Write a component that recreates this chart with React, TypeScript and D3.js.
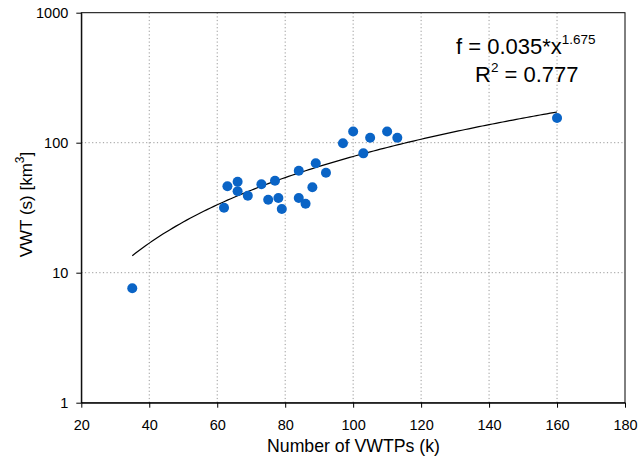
import { useEffect, useRef } from "react";
import * as d3 from "d3";

const vwtps = [35, 62, 63, 66, 66, 69, 73, 77, 75, 78, 79, 84, 84, 86, 89, 88, 92, 97, 100, 103, 105, 110, 113, 160];
const vwt = [7.6, 31.6, 46.2, 50.1, 42.3, 39.1, 47.9, 51.0, 36.4, 37.6, 30.9, 60.9, 37.6, 33.9, 69.4, 45.4, 58.8, 98.9, 122, 82.8, 109, 122, 109, 155];
const fitA = 0.035;
const fitB = 1.675;
const xTicks = [20, 40, 60, 80, 100, 120, 140, 160, 180];
const yTicks = [1, 10, 100, 1000];

export default function App() {
  const svgRef = useRef<SVGSVGElement | null>(null);

  useEffect(() => {
    if (!svgRef.current) return;
    const width = 639;
    const height = 457;
    const margin = { top: 12.7, right: 14, bottom: 54.3, left: 81.3 };

    const svg = d3.select(svgRef.current);
    svg.selectAll("*").remove();
    svg.style("font-family", "'Liberation Sans', Arial, sans-serif");

    const x = d3.scaleLinear().domain([20, 180]).range([margin.left, width - margin.right]);
    const y = d3.scaleLog().domain([1, 1000]).range([height - margin.bottom, margin.top]);

    // Grid
    const grid = svg.append("g").attr("stroke", "#999").attr("stroke-dasharray", "1.2,2.4").attr("stroke-width", 1);
    xTicks.slice(1, -1).forEach((t) => {
      grid.append("line").attr("x1", x(t)).attr("x2", x(t)).attr("y1", y(1)).attr("y2", y(1000));
    });
    yTicks.slice(1, -1).forEach((t) => {
      grid.append("line").attr("x1", x(20)).attr("x2", x(180)).attr("y1", y(t)).attr("y2", y(t));
    });

    // Frame
    svg
      .append("rect")
      .attr("x", x(20))
      .attr("y", y(1000))
      .attr("width", x(180) - x(20))
      .attr("height", y(1) - y(1000))
      .attr("fill", "none")
      .attr("stroke", "#000")
      .attr("stroke-width", 1);

    const xAxis = svg
      .append("g")
      .attr("transform", `translate(0,${y(1)})`)
      .call(d3.axisBottom(x).tickValues(xTicks).tickSize(5).tickSizeOuter(0).tickPadding(12).tickFormat(d3.format("d")));
    const yAxis = svg
      .append("g")
      .attr("transform", `translate(${x(20)},0)`)
      .call(d3.axisLeft(y).tickValues(yTicks).tickSize(5).tickSizeOuter(0).tickPadding(8).tickFormat(d3.format("d")));
    [xAxis, yAxis].forEach((g) => {
      g.selectAll("text").attr("font-size", 14.5).attr("fill", "#000").attr("font-family", "'Liberation Sans', Arial, sans-serif");
      g.selectAll("line").attr("stroke", "#000");
      g.select(".domain").attr("stroke", "#000");
    });

    // Fit curve
    const curveX = d3.range(35, 160.5, 1);
    const line = d3
      .line<number>()
      .x((d) => x(d))
      .y((d) => y(fitA * Math.pow(d, fitB)));
    svg.append("path").datum(curveX).attr("d", line).attr("fill", "none").attr("stroke", "#000").attr("stroke-width", 1.2);

    // Points
    svg
      .append("g")
      .selectAll("circle")
      .data(vwtps.map((v, i) => ({ x: v, y: vwt[i] })))
      .join("circle")
      .attr("cx", (d) => x(d.x))
      .attr("cy", (d) => y(d.y))
      .attr("r", 5)
      .attr("fill", "#0a64c6");

    // Equation
    const eq = svg.append("text").attr("x", 456).attr("y", 54).attr("font-size", 22).attr("fill", "#000");
    eq.append("tspan").text("f = 0.035*x");
    eq.append("tspan").attr("font-size", 13.5).attr("dy", -10).text(String(fitB));
    const r2 = svg.append("text").attr("x", 475).attr("y", 82).attr("font-size", 22).attr("fill", "#000");
    r2.append("tspan").text("R");
    r2.append("tspan").attr("font-size", 13.5).attr("dy", -10).text("2");
    r2.append("tspan").attr("dy", 10).text(" = 0.777");

    // Axis labels
    svg
      .append("text")
      .attr("x", 353.5)
      .attr("y", 452)
      .attr("text-anchor", "middle")
      .attr("font-size", 17.7)
      .text("Number of VWTPs (k)");

    const yl = svg
      .append("text")
      .attr("transform", "translate(32,204.5) rotate(-90)")
      .attr("text-anchor", "middle")
      .attr("font-size", 17);
    yl.append("tspan").text("VWT (s) [km");
    yl.append("tspan").attr("font-size", 12).attr("dy", -8).text("3");
    yl.append("tspan").attr("dy", 8).text("]");
  }, []);

  return (
    <svg
      ref={svgRef}
      width={639}
      height={457}
      viewBox="0 0 639 457"
      style={{ position: "absolute", left: 0, top: 0, background: "#fff" }}
    ></svg>
  );
}
